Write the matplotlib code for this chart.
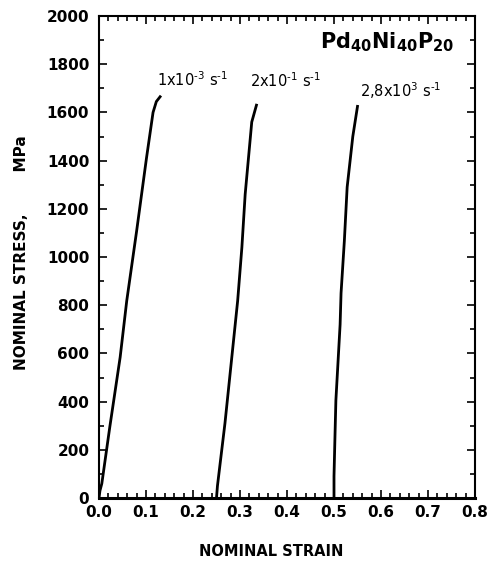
import numpy as np
import matplotlib.pyplot as plt
from matplotlib.ticker import MultipleLocator

# strain / stress
strain_1 = [0.0, 0.002, 0.006, 0.023, 0.045, 0.059, 0.080, 0.101, 0.115, 0.122, 0.130]
stress_1 = [0, 30, 60, 295, 584, 818, 1107, 1410, 1600, 1645, 1665]
strain_2 = [0.250, 0.252, 0.268, 0.295, 0.304, 0.311, 0.325, 0.335]
stress_2 = [0, 50, 310, 818, 1040, 1260, 1560, 1630]
strain_3 = [0.500, 0.500, 0.502, 0.504, 0.513, 0.515, 0.522, 0.528, 0.540, 0.550]
stress_3 = [0, 90, 250, 405, 720, 850, 1066, 1290, 1500, 1625]

rate_labels = [r"1x10$^{\text{-}3}$ s$^{\text{-}1}$", r"2x10$^{\text{-}1}$ s$^{\text{-}1}$",
               r"2,8x10$^{3}$ s$^{\text{-}1}$"]
label_pos = [(0.123, 1711), (0.321, 1707), (0.555, 1665)]

fig = plt.figure(figsize=(4.92, 5.65), dpi=100)
ax = fig.add_axes([99 / 492, 67 / 565, 376 / 492, 482 / 565])

for sx, sy in [(strain_1, stress_1), (strain_2, stress_2), (strain_3, stress_3)]:
    ax.plot(sx, sy, color="black", lw=2.0)

for lab, (lx, ly) in zip(rate_labels, label_pos):
    ax.text(lx, ly, lab, fontsize=10.5, va="baseline")

ax.text(0.757, 1866, r"Pd$_{\mathbf{40}}$Ni$_{\mathbf{40}}$P$_{\mathbf{20}}$",
        fontsize=15, fontweight="bold", ha="right", va="baseline")

ax.set_xlim(0, 0.8)
ax.set_ylim(0, 2000)
ax.xaxis.set_major_locator(MultipleLocator(0.1))
ax.xaxis.set_minor_locator(MultipleLocator(0.02))
ax.yaxis.set_major_locator(MultipleLocator(200))
ax.yaxis.set_minor_locator(MultipleLocator(100))
ax.xaxis.set_major_formatter(plt.FuncFormatter(lambda v, p: f"{v:.1f}"))
ax.tick_params(which="both", direction="in", top=True, right=True, width=1.2)
ax.tick_params(which="major", length=6)
ax.tick_params(which="minor", length=3.5)
ax.tick_params(axis="x", pad=5)
ax.tick_params(axis="y", pad=7)
for t in ax.get_xticklabels() + ax.get_yticklabels():
    t.set_fontweight("bold")
    t.set_fontsize(11)
for s in ax.spines.values():
    s.set_linewidth(1.5)
ax.spines["bottom"].set_linewidth(2.2)

ax.set_xlabel("NOMINAL STRAIN", fontsize=10.5, fontweight="bold")
ax.xaxis.set_label_coords(0.457, -0.095)
ax.set_ylabel("NOMINAL STRESS,        MPa", fontsize=11, fontweight="bold")
ax.yaxis.set_label_coords(-0.185, 0.51)

fig.savefig("out.png", dpi=100)
